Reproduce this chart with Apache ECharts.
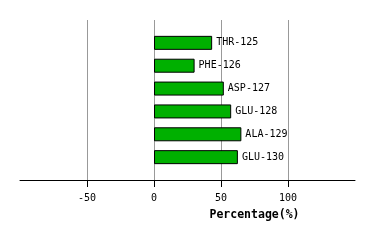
<!DOCTYPE html>
<html><head><meta charset="utf-8">
<script src="https://cdn.jsdelivr.net/npm/echarts@6/dist/echarts.min.js"></script>
<style>html,body{margin:0;padding:0;background:#fff}#c{width:374px;height:240px}</style>
</head><body><div id="c"></div>
<script>
const categories = ['THR-125','PHE-126','ASP-127','GLU-128','ALA-129','GLU-130'];
const values = [43.4, 30.3, 52.1, 57.6, 65.2, 62.6];
const tickValues = [-50, 0, 50, 100];
const axisTitle = 'Percentage(%)';

const chart = echarts.init(document.getElementById('c'), null, {renderer:'canvas'});
const mono = 'DejaVu Sans Mono';
chart.setOption({
  animation: false,
  grid: {left: 20, right: 19, top: 20, bottom: 60, containLabel: false},
  xAxis: {
    type: 'value', min: -100, max: 150, interval: 50,
    name: axisTitle, nameLocation: 'middle', nameGap: 29,
    nameTextStyle: {fontFamily: mono, fontSize: 11.5, fontWeight: 'bold', color: '#000', padding: [0,0,0,134]},
    axisLine: {show: true, lineStyle: {color: '#000', width: 1}},
    axisTick: {show: true, length: 7, lineStyle: {color: '#000'}, customValues: tickValues},
    axisLabel: {fontFamily: mono, fontSize: 10, color: '#000', margin: 13, customValues: tickValues},
    splitLine: {show: true, lineStyle: {color: '#999', width: 1}}
  },
  yAxis: {
    type: 'category', inverse: true, boundaryGap: false,
    data: [''].concat(categories).concat(['']),
    axisLine: {show: false}, axisTick: {show: false}, axisLabel: {show: false}, splitLine: {show: false}
  },
  series: [{
    type: 'bar', barWidth: 14,
    data: [null].concat(values).concat([null]),
    itemStyle: {color: '#00b000', borderColor: '#000', borderWidth: 1},
    label: {show: true, position: 'right', distance: 4, formatter: '{b}', fontFamily: mono, fontSize: 10, color: '#000'}
  }]
});
</script></body></html>
